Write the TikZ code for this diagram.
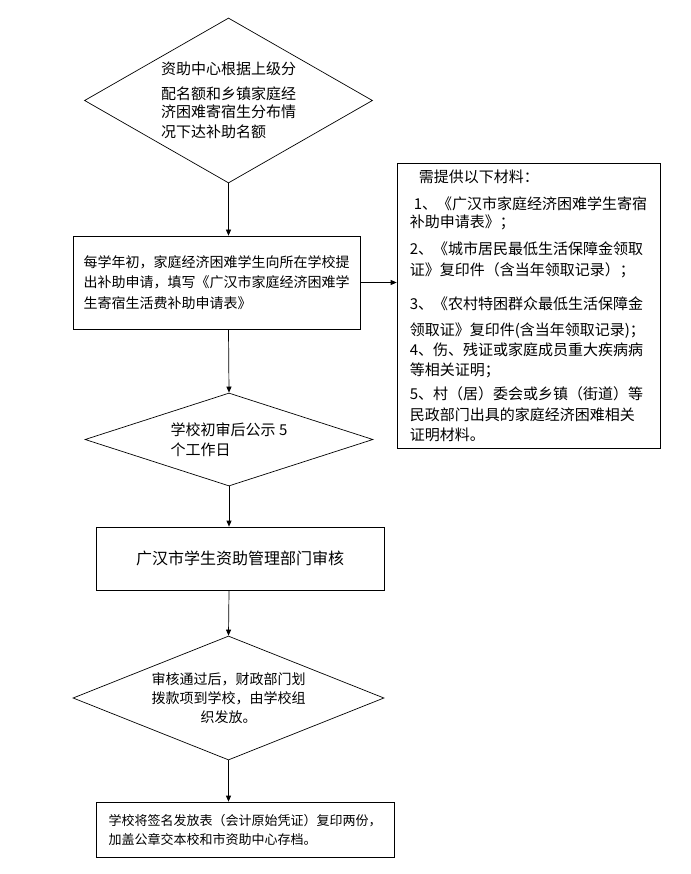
\documentclass[tikz,border=0pt]{standalone}
\usepackage{fontspec}
\setmainfont{Noto Sans CJK SC}
\usetikzlibrary{shapes.geometric,arrows.meta}

\begin{document}
\begin{tikzpicture}
[x=1pt,y=-1pt,line width=0.7pt,
 dec/.style={draw,shape=diamond,inner sep=0pt,align=left},
 box/.style={draw,rectangle,inner sep=0pt,align=left},
 arr/.style={-{Triangle[length=6pt,width=5pt]}}]
\useasboundingbox (0,0) rectangle (690,874);
% main column
\node[dec,shape aspect=1.75,minimum width=288pt,minimum height=165pt,
	font=\fontsize{15}{21}\selectfont] (quota) at (228.5,100.5)
	{资助中心根据上级分\\[4pt]配名额和乡镇家庭经\\[-3pt]济困难寄宿生分布情\\[-1pt]况下达补助名额};
\node[box,minimum width=287pt,minimum height=93pt,
	font=\fontsize{14}{20.5}\selectfont] (apply) at (216.5,282.5)
	{每学年初，家庭经济困难学生向所在学校提\\出补助申请，填写《广汉市家庭经济困难学\\生寄宿生活费补助申请表》};
\node[dec,shape aspect=3.1,minimum width=288pt,minimum height=93pt,
	font=\fontsize{15}{20}\selectfont] (notice) at (229,439.5)
	{学校初审后公示 5\\个工作日};
\node[box,minimum width=288pt,minimum height=63pt,
	font=\fontsize{16}{20}\selectfont] (audit) at (240,558.5)
	{广汉市学生资助管理部门审核};
\node[dec,shape aspect=2.5,minimum width=311pt,minimum height=124pt,align=center,
	font=\fontsize{14}{19}\selectfont] (fund) at (228.5,698)
	{审核通过后，财政部门划\\拨款项到学校，由学校组\\织发放。};
\node[box,minimum width=298pt,minimum height=55pt,
	font=\fontsize{13}{19}\selectfont] (file) at (245,829.5)
	{学校将签名发放表（会计原始凭证）复印两份，\\加盖公章交本校和市资助中心存档。};
% materials list
\node[box,minimum width=263pt,minimum height=285pt,
	font=\fontsize{15}{20}\selectfont] (req) at (528.5,305.5)
	{\hspace*{9pt}需提供以下材料：\\[7pt]
	\hspace*{4pt}1、《广汉市家庭经济困难学生寄宿\\[-2pt]
	补助申请表》；\\[7pt]
	2、《城市居民最低生活保障金领取\\[1pt]
	证》复印件（含当年领取记录）；\\[14pt]
	3、《农村特困群众最低生活保障金\\[6pt]
	领取证》复印件(含当年领取记录)；\\
	4、伤、残证或家庭成员重大疾病病\\
	等相关证明；\\[4pt]
	5、村（居）委会或乡镇（街道）等\\[1pt]
	民政部门出具的家庭经济困难相关\\
	证明材料。};
% connectors
\draw[arr] (quota.south) -- (quota.south |- apply.north);
\draw[arr] (quota.south |- apply.south) -- (notice.north);
\draw[arr] (notice.south) -- (notice.south |- audit.north);
\draw[arr] (notice.south |- audit.south) -- (fund.north);
\draw[arr] (fund.south) -- (fund.south |- file.north);
\draw[arr] (apply.east) -- (apply.east -| req.west);
\end{tikzpicture}
\end{document}
